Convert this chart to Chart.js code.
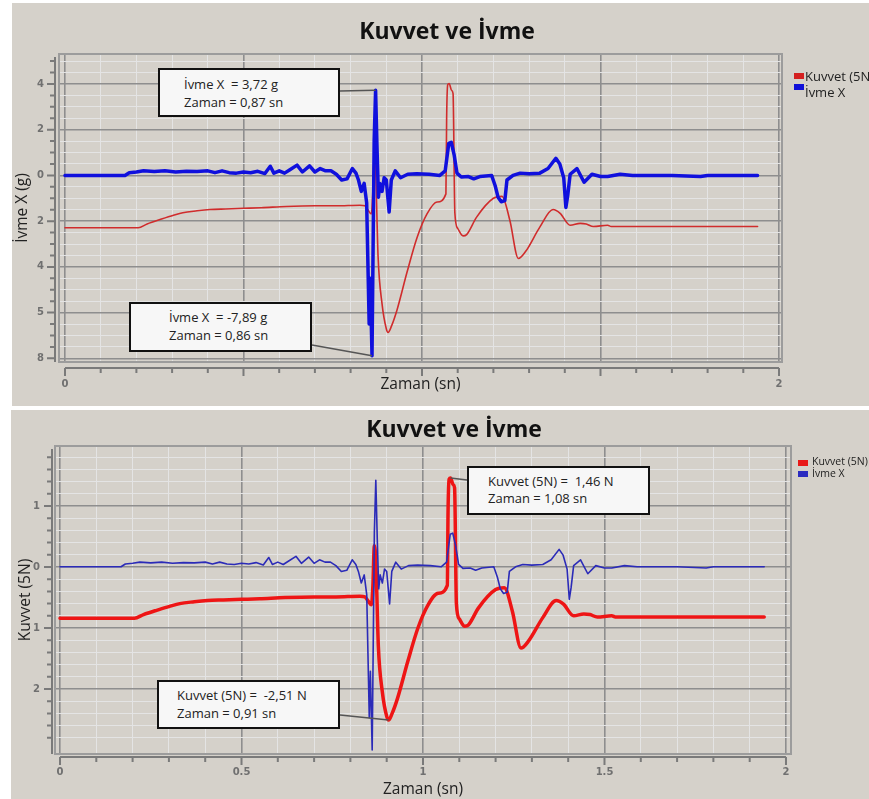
<!DOCTYPE html>
<html>
<head>
<meta charset="utf-8">
<script src="https://cdn.jsdelivr.net/npm/chart.js@4.4.0/dist/chart.umd.min.js"></script>
<style>
body { margin: 0; width: 869px; height: 799px; overflow: hidden; background: #fff; position: relative; font-family: "Open Sans", "Noto Sans", sans-serif; }
.panel { position: absolute; background: #d5d1ca; overflow: hidden; }
#panelTop { left: 12px; top: 3px; width: 857px; height: 403px; }
#panelBottom { left: 11px; top: 410px; width: 858px; height: 389px; }
.panel canvas { position: absolute; left: 0; top: 0; }
.title { position: absolute; font-weight: 700; font-size: 23px; line-height: 30px; color: #111; white-space: nowrap; transform: translateX(-50%); }
.sw { position: absolute; width: 10px; height: 6px; }
.leg { position: absolute; white-space: nowrap; color: #222; }
.note { position: absolute; background: #f7f7f7; border: 2px solid #111; box-sizing: border-box; font-size: 13px; line-height: 18px; color: #222; white-space: pre; }
</style>
</head>
<body>
<div class="panel" id="panelTop">
  <canvas id="chartTop" width="857" height="403"></canvas>
  <div class="title" style="left:435px; top:12px;">Kuvvet ve İvme</div>
  <div class="sw" style="left:782px; top:70px; background:#d42020;"></div>
  <div class="leg" style="left:793px; top:64px; font-size:13px; line-height:18px;">Kuvvet (5N)</div>
  <div class="sw" style="left:782px; top:81px; background:#1010d8;"></div>
  <div class="leg" style="left:793px; top:80px; font-size:13px; line-height:18px;">İvme X</div>
  <div class="note" style="left:146px; top:65px; width:182px; height:49px; padding:5px 0 0 24px;">İvme X  = 3,72 g
Zaman = 0,87 sn</div>
  <div class="note" style="left:117px; top:299px; width:183px; height:50px; padding:4px 0 0 38px;">İvme X  = -7,89 g
Zaman = 0,86 sn</div>
</div>
<div class="panel" id="panelBottom">
  <canvas id="chartBottom" width="858" height="389"></canvas>
  <div class="title" style="left:443px; top:3px;">Kuvvet ve İvme</div>
  <div class="sw" style="left:787px; top:50px; background:#e81818;"></div>
  <div class="leg" style="left:801px; top:44px; font-size:10.5px; line-height:14px;">Kuvvet (5N)</div>
  <div class="sw" style="left:787px; top:61px; background:#2b2bc0;"></div>
  <div class="leg" style="left:801px; top:56px; font-size:10.5px; line-height:14px;">İvme X</div>
  <div class="note" style="left:456px; top:56px; width:183px; height:49px; padding:5px 0 0 19px; line-height:17px;">Kuvvet (5N) =  1,46 N
Zaman = 1,08 sn</div>
  <div class="note" style="left:146px; top:270px; width:183px; height:49px; padding:4px 0 0 18px;">Kuvvet (5N) =  -2,51 N
Zaman = 0,91 sn</div>
</div>
<script>
// İvme X (g)
const ivmeT = [0, 0.10, 0.168, 0.18, 0.20, 0.22, 0.25, 0.28, 0.31, 0.34, 0.37, 0.40, 0.42, 0.44, 0.46, 0.48, 0.50, 0.52, 0.54, 0.56,
    0.575, 0.585, 0.60, 0.615, 0.63, 0.65, 0.665, 0.685, 0.70, 0.715, 0.73, 0.745, 0.76, 0.775, 0.79, 0.805, 0.815, 0.822, 0.83, 0.838,
    0.845, 0.852, 0.855, 0.86, 0.866, 0.87, 0.874, 0.878, 0.882, 0.888, 0.894, 0.90, 0.908, 0.914, 0.925, 0.94, 0.96, 0.985, 1.02, 1.05,
    1.065, 1.075, 1.082, 1.09, 1.098, 1.11, 1.13, 1.145, 1.162, 1.195, 1.205, 1.213, 1.222, 1.232, 1.238, 1.255, 1.275, 1.30, 1.33, 1.353,
    1.375, 1.386, 1.397, 1.403, 1.408, 1.415, 1.434, 1.454, 1.476, 1.50, 1.52, 1.555, 1.59, 1.70, 1.78, 1.80, 1.94];
const ivmeG = [0, 0, 0, 0.12, 0.15, 0.2, 0.17, 0.2, 0.15, 0.18, 0.17, 0.2, 0.12, 0.2, 0.12, 0.1, 0.15, 0.12, 0.18, 0.08,
    0.4, 0.1, 0.2, 0.1, 0.25, 0.45, 0.15, 0.42, 0.15, 0.3, 0.2, 0.2, 0.05, -0.2, -0.15, 0.3, 0.1, -0.2, -0.7, -0.35,
    -1.2, -6.5, -4.5, -7.89, 1.5, 3.72, 1.2, -0.95, -0.35, -0.7, -0.1, -0.2, -1.6, -0.2, 0.2, -0.1, 0.05, 0.07, 0.05, 0,
    0.2, 1.4, 1.45, 0.9, 0.1, -0.07, -0.05, -0.15, -0.05, 0, -0.45, -0.95, -1.15, -1.1, -0.2, 0, 0.1, 0.07, 0.1, 0.3,
    0.75, 0.5, -0.1, -1.4, -0.9, 0.05, 0.3, -0.3, 0.05, -0.05, -0.05, 0.05, 0, 0, -0.05, 0, 0];

// Kuvvet (5N)
const kuvvetT = [0, 0.205, 0.23, 0.266, 0.30, 0.33, 0.37, 0.406, 0.45, 0.50, 0.55, 0.62, 0.70, 0.76, 0.826, 0.84, 0.848, 0.858, 0.862, 0.866,
    0.87, 0.877, 0.888, 0.90, 0.905, 0.915, 0.93, 0.958, 0.986, 1.014, 1.042, 1.067, 1.069, 1.072, 1.076, 1.083, 1.087, 1.092, 1.10, 1.115,
    1.125, 1.153, 1.20, 1.224, 1.246, 1.27, 1.29, 1.33, 1.367, 1.387, 1.415, 1.443, 1.46, 1.48, 1.52, 1.53, 1.94];
const kuvvetN = [-0.84, -0.84, -0.78, -0.71, -0.65, -0.6, -0.57, -0.55, -0.54, -0.53, -0.52, -0.5, -0.49, -0.49, -0.48, -0.49, -0.55, -0.62, -0.3, 0.35,
    0.1, -1.3, -2.05, -2.45, -2.51, -2.4, -2.15, -1.55, -1.0, -0.62, -0.43, -0.3, 0.9, 1.44, 1.46, 1.35, 1.3, -0.6, -0.85, -0.97,
    -0.95, -0.67, -0.37, -0.34, -0.72, -1.33, -1.22, -0.83, -0.55, -0.61, -0.8, -0.77, -0.78, -0.82, -0.8, -0.82, -0.82];

const yTicksTop = [4, 2, 0, -2, -4, -6, -8];
const yLabelsTop = ['4', '2', '0', '2', '4', '5', '8'];
const yTicksBottom = [1, 0, -1, -2];
const yLabelsBottom = ['1', '0', '1', '2'];
const xTicksTop = [0, 2];
const xLabelsTop = ['0', '2'];
const xTicksBottom = [0, 0.5, 1, 1.5, 2];
const xLabelsBottom = ['0', '0.5', '1', '1.5', '2'];

function toPoints(xs, ys) {
    return xs.map((x, i) => ({ x: x, y: ys[i] }));
}

function stepTicks(from, to, step) {
    const out = [];
    const n = Math.round((to - from) / step);
    for (let i = 0; i <= n; i++) {
        out.push({ value: Math.round((from + i * step) * 1000) / 1000 });
    }
    return out;
}

function labelFor(value, ticks, labels) {
    const i = ticks.findIndex(t => Math.abs(t - value) < 1e-6);
    return i >= 0 ? labels[i] : '';
}

function isMultiple(v, m) {
    return Math.abs(v / m - Math.round(v / m)) < 1e-6;
}

const axisPlugin = {
    id: 'axisLines',
    beforeDatasetsDraw(chart, args, o) {
        const ctx = chart.ctx;
        const a = chart.chartArea;
        const xs = chart.scales.x;
        const ys = chart.scales[o.yId];
        ctx.save();
        ctx.strokeStyle = '#9c9c9c';
        ctx.lineWidth = 2;
        ctx.strokeRect(a.left, a.top, a.right - a.left, a.bottom - a.top);

        ctx.strokeStyle = '#7a7a7a';
        ctx.lineWidth = 2;
        const yLine = a.bottom + o.gapX;
        ctx.beginPath();
        ctx.moveTo(xs.getPixelForValue(0), yLine);
        ctx.lineTo(xs.getPixelForValue(2), yLine);
        xs.ticks.forEach(t => {
            const px = xs.getPixelForValue(t.value);
            ctx.moveTo(px, yLine);
            ctx.lineTo(px, yLine + (isMultiple(t.value, 0.5) ? 8 : 5));
        });
        ctx.stroke();

        const xLine = a.left - o.gapY;
        ctx.beginPath();
        ctx.moveTo(xLine, a.top + 3);
        ctx.lineTo(xLine, a.bottom);
        ys.ticks.forEach(t => {
            const py = ys.getPixelForValue(t.value);
            ctx.moveTo(xLine, py);
            ctx.lineTo(xLine - (isMultiple(t.value, o.yMajor) ? 8 : 5), py);
        });
        ctx.stroke();
        ctx.restore();
    },
    afterDatasetsDraw(chart, args, o) {
        const ctx = chart.ctx;
        ctx.save();
        ctx.strokeStyle = '#555';
        ctx.lineWidth = 1.5;
        o.connectors.forEach(c => {
            ctx.beginPath();
            ctx.moveTo(c.from[0], c.from[1]);
            ctx.lineTo(chart.scales.x.getPixelForValue(c.x), chart.scales[c.axis].getPixelForValue(c.y));
            ctx.stroke();
        });
        ctx.restore();
    }
};

function makeChart(id, cfg) {
    const tickFont = { family: 'DejaVu Sans', size: 10, weight: 'bold' };
    const titleFont = { family: 'Open Sans', size: 15.5 };
    const gridStyle = (major) => ({
        color: ctx => isMultiple(ctx.tick.value, major) ? '#8e8e8e' : '#e4e4e4',
        lineWidth: ctx => isMultiple(ctx.tick.value, major) ? 1.6 : 1,
        drawTicks: false
    });
    const visible = cfg.visibleAxis;
    const hidden = visible == 'g' ? 'n' : 'g';

    let scales = {
        x: {
            type: 'linear',
            min: cfg.xMin,
            max: cfg.xMax,
            afterBuildTicks: s => { s.ticks = stepTicks(0, 2, 0.1); },
            afterFit: s => { s.height = cfg.xHeight; },
            grid: gridStyle(0.5),
            border: { display: false },
            ticks: {
                autoSkip: false, maxRotation: 0, padding: cfg.xTickPad, color: '#707070', font: tickFont,
                callback: v => labelFor(v, cfg.xTicks, cfg.xLabels)
            },
            title: { display: true, text: 'Zaman (sn)', color: '#222', font: titleFont, padding: { top: 0, bottom: cfg.xTitlePad } }
        }
    };
    scales[visible] = {
        type: 'linear',
        position: 'left',
        min: cfg.ranges[visible][0],
        max: cfg.ranges[visible][1],
        afterBuildTicks: s => { s.ticks = stepTicks(cfg.yMinor[0], cfg.yMinor[1], cfg.yMinor[2]); },
        afterFit: s => { s.width = cfg.yWidth; },
        grid: gridStyle(cfg.yMajor),
        border: { display: false },
        ticks: {
            autoSkip: false, padding: cfg.yTickPad, color: '#707070', font: tickFont,
            callback: v => labelFor(v, cfg.yTicks, cfg.yLabels)
        },
        title: { display: true, text: cfg.yTitle, color: '#222', font: titleFont, padding: { top: cfg.yTitlePad, bottom: 0 } }
    };
    scales[hidden] = {
        type: 'linear',
        position: 'right',
        display: false,
        min: cfg.ranges[hidden][0],
        max: cfg.ranges[hidden][1]
    };

    return new Chart(document.getElementById(id).getContext('2d'), {
        type: 'line',
        data: {
            datasets: [{
                label: 'Kuvvet (5N)',
                data: toPoints(kuvvetT, kuvvetN),
                yAxisID: 'n',
                borderColor: cfg.red,
                borderWidth: cfg.redWidth,
                cubicInterpolationMode: 'monotone',
                order: 2
            }, {
                label: 'İvme X',
                data: toPoints(ivmeT, ivmeG),
                yAxisID: 'g',
                borderColor: cfg.blue,
                borderWidth: cfg.blueWidth,
                order: 1
            }]
        },
        options: {
            responsive: false,
            animation: false,
            devicePixelRatio: 1,
            layout: { padding: cfg.padding },
            elements: {
                point: { radius: 0 },
                line: { tension: 0, borderJoinStyle: 'round', borderCapStyle: 'round' }
            },
            scales: scales,
            plugins: {
                legend: { display: false },
                title: { display: false },
                tooltip: { enabled: false },
                axisLines: { yId: visible, yMajor: cfg.yMajor, gapX: cfg.gapX, gapY: cfg.gapY, connectors: cfg.connectors }
            }
        },
        plugins: [axisPlugin]
    });
}

makeChart('chartTop', {
    visibleAxis: 'g',
    ranges: { g: [-8.16, 5.31], n: [-2.98, 1.93] },
    xMin: -0.0168, xMax: 2.0084,
    xTicks: xTicksTop, xLabels: xLabelsTop,
    yTicks: yTicksTop, yLabels: yLabelsTop,
    yMinor: [-8, 5, 0.5], yMajor: 2,
    yTitle: 'İvme X (g)',
    padding: { left: 0, top: 51, right: 87, bottom: 0 },
    yWidth: 47, xHeight: 44,
    xTickPad: 16, yTickPad: 15, xTitlePad: 12, yTitlePad: 1,
    gapX: 6, gapY: 4,
    red: '#d02c2c', redWidth: 1.6,
    blue: '#1010dd', blueWidth: 3.5,
    connectors: [
        { from: [328, 88], x: 0.87, y: 3.72, axis: 'g' },
        { from: [300, 342], x: 0.86, y: -7.89, axis: 'g' }
    ]
});

makeChart('chartBottom', {
    visibleAxis: 'n',
    ranges: { n: [-3.066, 1.984], g: [-8.06, 5.2] },
    xMin: -0.0138, xMax: 2.0138,
    xTicks: xTicksBottom, xLabels: xLabelsBottom,
    yTicks: yTicksBottom, yLabels: yLabelsBottom,
    yMinor: [-2.8, 1.8, 0.2], yMajor: 1,
    yTitle: 'Kuvvet (5N)',
    padding: { left: 0, top: 36, right: 78, bottom: 0 },
    yWidth: 44, xHeight: 45,
    xTickPad: 12, yTickPad: 15, xTitlePad: 0, yTitlePad: 5,
    gapX: 3, gapY: 3,
    red: '#ee1515', redWidth: 3.5,
    blue: '#2b2bb8', blueWidth: 1.6,
    connectors: [
        { from: [456, 70], x: 1.076, y: 1.46, axis: 'n' },
        { from: [329, 305], x: 0.905, y: -2.51, axis: 'n' }
    ]
});
</script>
</body>
</html>
